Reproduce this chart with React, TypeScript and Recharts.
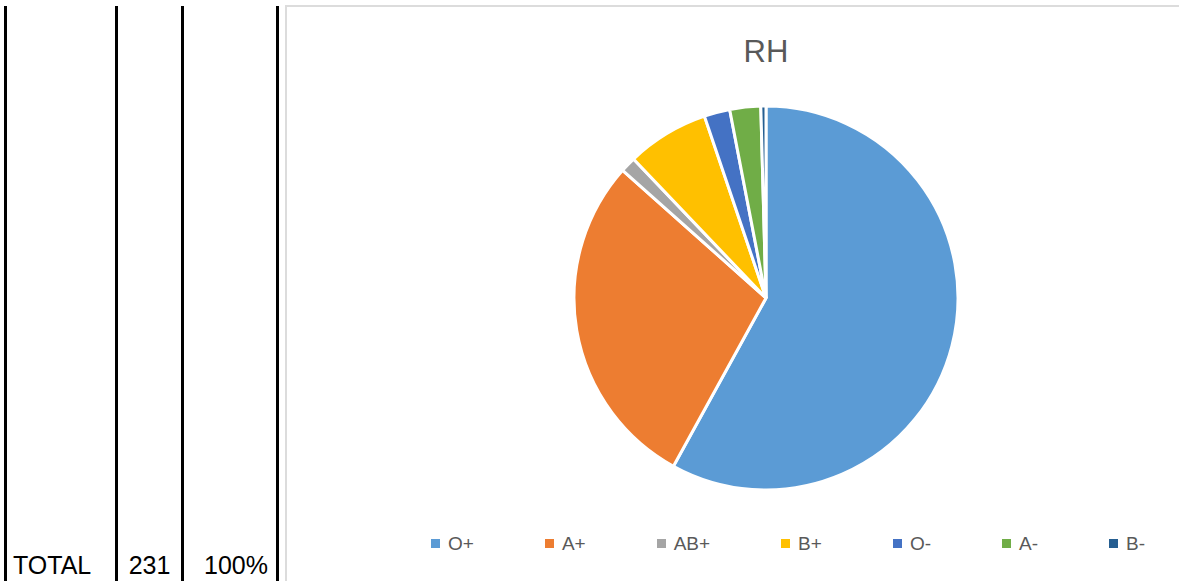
import React from 'react';
import { PieChart, Pie, Cell, Legend } from 'recharts';

const groups = ['O+', 'A+', 'AB+', 'B+', 'O-', 'A-', 'B-'];
const counts = [134, 66, 3, 16, 5, 6, 1];
const colors = ['#5B9BD5', '#ED7D31', '#A5A5A5', '#FFC000', '#4472C4', '#70AD47', '#255E91'];

const totalLabel = 'TOTAL';
const totalCount = 231;
const totalPct = '100%';

const data = groups.map((g, i) => ({ name: g, value: counts[i] }));

const FONT = '"Liberation Sans", Arial, sans-serif';

// legend in the same order as the slices (recharts sorts the payload by name)
const LegendRow = () => (
  <div style={{ display: 'flex', alignItems: 'center', fontFamily: FONT }}>
    {groups.map((g, i) => (
      <div
        key={g}
        style={{ display: 'flex', alignItems: 'center', marginRight: i < groups.length - 1 ? 71 : 0 }}
      >
        <span style={{ width: 9, height: 9, background: colors[i], display: 'inline-block', marginRight: 8 }} />
        <span style={{ fontSize: 19, lineHeight: 1, color: '#595959' }}>{g}</span>
      </div>
    ))}
  </div>
);

const vline = (x: number, w: number) => (
  <div style={{ position: 'absolute', left: x, top: 6, width: w, height: 600, background: '#000' }} />
);

const cellText = (text: string | number, left: number, width: number, align: 'left' | 'center' | 'right') => (
  <div
    style={{
      position: 'absolute',
      left,
      top: 553,
      width,
      textAlign: align,
      fontFamily: FONT,
      fontSize: 25,
      lineHeight: 1,
      color: '#000',
    }}
  >
    {text}
  </div>
);

export default function App() {
  return (
    <div
      style={{
        position: 'absolute',
        left: 0,
        top: 0,
        width: 1179,
        height: 581,
        overflow: 'hidden',
        background: '#fff',
      }}
    >
      {vline(4, 3)}
      {vline(115, 3)}
      {vline(181, 3)}
      {vline(276, 3)}
      {cellText(totalLabel, 13, 100, 'left')}
      {cellText(totalCount, 117, 65, 'center')}
      {cellText(totalPct, 184, 84, 'right')}

      <div
        style={{
          position: 'absolute',
          left: 285,
          top: 5,
          width: 962,
          height: 600,
          borderLeft: '2px solid #dcdcdc',
          borderTop: '2px solid #dcdcdc',
        }}
      >
        <div
          style={{
            position: 'absolute',
            left: 0,
            top: 29,
            width: 958,
            textAlign: 'center',
            fontFamily: FONT,
            fontSize: 31,
            lineHeight: 1,
            color: '#595959',
          }}
        >
          RH
        </div>
        <PieChart width={962} height={575} margin={{ top: 0, right: 0, bottom: 0, left: 0 }}>
          <Pie
            data={data}
            dataKey="value"
            nameKey="name"
            cx={479}
            cy={291}
            outerRadius={192}
            startAngle={90}
            endAngle={-270}
            stroke="#fff"
            strokeWidth={3}
            isAnimationActive={false}
          >
            {data.map((d, i) => (
              <Cell key={d.name} fill={colors[i]} />
            ))}
          </Pie>
          <Legend
            content={<LegendRow />}
            wrapperStyle={{ position: 'absolute', left: 144, top: 527, width: 800 }}
          />
        </PieChart>
      </div>
    </div>
  );
}
